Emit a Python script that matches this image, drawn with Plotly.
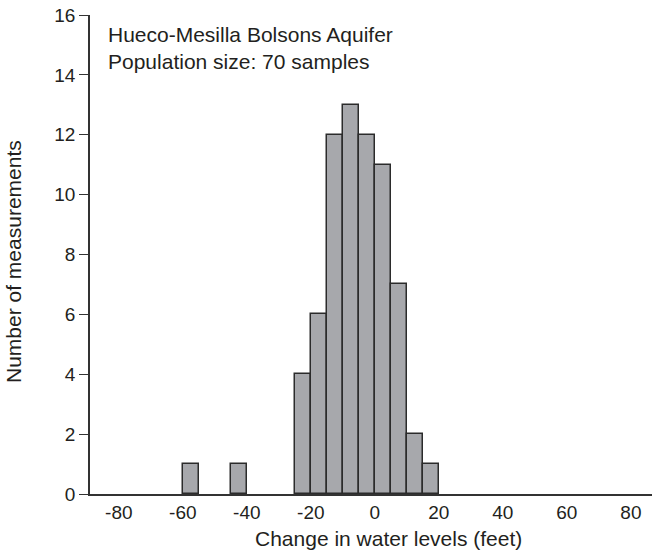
import plotly.graph_objects as go

# Histogram data: left edges of 5-ft bins and counts
bin_left = [-60, -45, -25, -20, -15, -10, -5, 0, 5, 10, 15]
counts = [1, 1, 4, 6, 12, 13, 12, 11, 7, 2, 1]
bin_width = 5
x_ticks = [-80, -60, -40, -20, 0, 20, 40, 60, 80]
y_ticks = [0, 2, 4, 6, 8, 10, 12, 14, 16]

centers = [b + bin_width / 2 for b in bin_left]

FONT = "Arial, Liberation Sans, sans-serif"
INK = "#231f20"

PX_L, PX_R, PX_T, PX_B = 90, 652, 15, 494  # plot area in page pixels
W, H = 653, 554


def px(xp):
    return (xp - PX_L) / (PX_R - PX_L)


def py(yp):
    return (PX_B - yp) / (PX_B - PX_T)


fig = go.Figure()
fig.add_trace(go.Bar(
    x=centers, y=counts, width=[bin_width] * len(counts),
    marker=dict(color="#a7a8ac", line=dict(color="#2b2b2b", width=1.5)),
    showlegend=False,
))

fig.update_layout(
    width=W, height=H,
    margin=dict(l=PX_L, r=W - PX_R, t=PX_T, b=H - PX_B),
    plot_bgcolor="white", paper_bgcolor="white",
    font=dict(family=FONT, size=19, color=INK),
    bargap=0,
    xaxis=dict(
        range=[-89, 86.6], tickmode="array", tickvals=x_ticks,
        ticktext=[str(v) for v in x_ticks],
        ticks="", showgrid=False, zeroline=False,
        showline=True, linecolor="#333333", linewidth=1.5,
        tickfont=dict(size=19, color=INK),
    ),
    yaxis=dict(
        range=[0, 16], tickmode="array", tickvals=y_ticks,
        ticks="outside", ticklen=9, tickwidth=1.3, tickcolor="#333333",
        showgrid=False, zeroline=False,
        showline=True, linecolor="#333333", linewidth=1.5,
        tickfont=dict(size=19, color=INK),
    ),
    annotations=[
        dict(text="Hueco-Mesilla Bolsons Aquifer<br>Population size: 70 samples",
             xref="paper", yref="paper", x=px(106), y=py(21),
             xanchor="left", yanchor="top", align="left", showarrow=False,
             font=dict(size=21, color=INK)),
        dict(text="Change in water levels (feet)", xref="paper", yref="paper",
             x=px(388), y=py(538), xanchor="center", yanchor="middle",
             showarrow=False, font=dict(size=21, color=INK)),
        dict(text="Number of measurements", xref="paper", yref="paper",
             x=px(13), y=py(262), xanchor="center", yanchor="middle",
             textangle=-90, showarrow=False, font=dict(size=21, color=INK)),
    ],
)

fig.write_html(
    "out.html",
    config={"displayModeBar": False},
    post_script="document.body.style.margin='0';document.documentElement.style.overflow='hidden';",
)
